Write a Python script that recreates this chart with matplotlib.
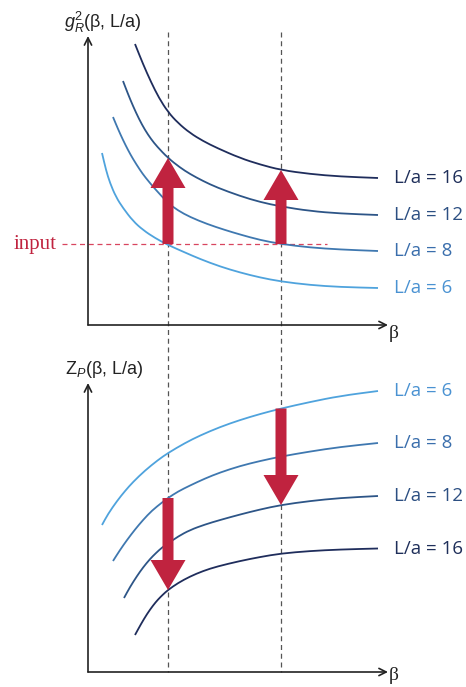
import numpy as np
import matplotlib.pyplot as plt
from matplotlib.path import Path
from matplotlib.patches import PathPatch

plt.rcParams['mathtext.fontset'] = 'custom'
plt.rcParams['mathtext.rm'] = 'Liberation Sans'
plt.rcParams['mathtext.it'] = 'Liberation Sans:italic'

# curve data (arbitrary units, axis origin = 0)
labels = ['L/a = 6', 'L/a = 8', 'L/a = 12', 'L/a = 16']
line_colors = ['#4fa3dd', '#3f78b0', '#2d5587', '#1f2d5c']
text_colors = ['#4a92d2', '#3a6eac', '#2c4f82', '#1f2f5a']

# top panel: g_R^2(beta, L/a)
g_beta_6 = [14, 18, 22, 28, 35, 45, 55, 67, 80, 97, 112, 132, 152, 172, 193, 222, 252, 290]
g_val_6 = [172, 155, 142, 128, 117, 104, 95, 87, 80, 72.5, 66, 58.5, 52.5, 47.5, 43.5, 40, 38, 37]
g_beta_8 = [25, 30, 35, 40, 45, 52, 57, 67, 80, 90, 102, 119, 137, 152, 172, 193, 222, 252, 290]
g_val_8 = [208, 196, 185, 175, 166, 155, 148, 136, 122, 114.5, 108, 101, 95, 90.5, 85, 81, 77.5, 75.5, 74]
g_beta_12 = [35, 40, 45, 51, 57, 63, 69, 80, 92, 102, 115, 129, 152, 172, 193, 222, 252, 290]
g_val_12 = [244, 231, 219, 206, 195, 186, 178.5, 167, 157.5, 151, 144, 137.5, 129, 123, 118.5, 114, 111.5, 110]
g_beta_16 = [47, 55, 63, 71, 80, 90, 102, 115, 129, 152, 172, 193, 222, 252, 290]
g_val_16 = [281, 261, 243, 227, 213, 202, 192, 184, 177, 167, 160.5, 155, 151, 148.5, 147]

# bottom panel: Z_P(beta, L/a)
z_beta_6 = [14, 20, 29, 37, 45, 57, 70, 80, 97, 112, 132, 152, 172, 193, 222, 252, 290]
z_val_6 = [147, 158, 171, 181, 190, 201.5, 212, 219, 229, 236.5, 245, 252, 258, 263.5, 270, 276, 281]
z_beta_8 = [25, 32, 39, 47, 55, 64, 74, 80, 90, 102, 117, 132, 152, 172, 193, 222, 252, 290]
z_val_8 = [111, 122, 132, 142.5, 152, 161.5, 169.5, 174, 180.5, 186.5, 193.5, 199.5, 206, 211, 215.5, 220.5, 225, 229]
z_beta_12 = [36, 42, 49, 55, 62, 68, 74, 80, 90, 102, 117, 132, 152, 172, 193, 222, 252, 290]
z_val_12 = [74, 85, 96, 104.5, 113, 119, 124.5, 128.5, 135.5, 142, 147.5, 152, 157.5, 162.5, 167, 171, 174, 176]
z_beta_16 = [47, 53, 59, 65, 70, 75, 80, 90, 102, 115, 129, 152, 172, 193, 222, 252, 290]
z_val_16 = [37, 48, 58, 66.5, 72.5, 77.5, 82, 89, 95.5, 101, 105.5, 111, 115, 118.5, 121, 122.5, 123.5]

g_curves = [(g_beta_6, g_val_6), (g_beta_8, g_val_8), (g_beta_12, g_val_12), (g_beta_16, g_val_16)]
z_curves = [(z_beta_6, z_val_6), (z_beta_8, z_val_8), (z_beta_12, z_val_12), (z_beta_16, z_val_16)]

beta_ops = [80, 193]      # the two dashed beta values
g_input = 81              # input level of g_R^2

red = '#c0233f'


def smooth_line(ax, xs, ys, color):
    # quadratic bezier through the midpoints, so the read points give a smooth stroke
    pts = np.column_stack([xs, ys]).astype(float)
    mids = (pts[:-1] + pts[1:]) / 2
    verts = [pts[0], mids[0]]
    codes = [Path.MOVETO, Path.LINETO]
    for i in range(1, len(pts) - 1):
        verts += [pts[i], mids[i]]
        codes += [Path.CURVE3, Path.CURVE3]
    verts.append(pts[-1])
    codes.append(Path.LINETO)
    ax.add_patch(PathPatch(Path(verts, codes), fill=False, edgecolor=color, lw=1.3,
                           capstyle='butt', zorder=2))


fig = plt.figure(figsize=(4.66, 6.87), dpi=100)
ax1 = fig.add_axes([88 / 466, 1 - 325 / 687, 300 / 466, 300 / 687])
ax2 = fig.add_axes([88 / 466, 15 / 687, 300 / 466, 300 / 687])

for ax, by in ((ax1, -8), (ax2, -4)):
    ax.set_xlim(0, 300)
    ax.set_ylim(0, 300)
    ax.axis('off')
    ax.annotate('', xy=(0, 289), xytext=(0, 0),
                arrowprops=dict(arrowstyle='->', lw=1.2, color='#222222', mutation_scale=13,
                                shrinkA=0, shrinkB=0))
    ax.annotate('', xy=(300, 0), xytext=(0, 0),
                arrowprops=dict(arrowstyle='->', lw=1.2, color='#222222', mutation_scale=13,
                                shrinkA=0, shrinkB=0))
    ax.text(301, by, 'β', fontsize=14, family='Liberation Serif', color='#222222',
            ha='left', va='center')

# dashed verticals running through both panels
for b in beta_ops:
    ax1.plot([b, b], [293, -347], color='#555555', lw=0.9, dashes=(4, 3), clip_on=False, zorder=1)

# curves + labels
for (bx, vy), c, tc, lab in zip(g_curves, line_colors, text_colors, labels):
    smooth_line(ax1, bx, vy, c)
    ax1.text(306, vy[-1], lab, color=tc, fontsize=13.5, family='Open Sans', va='center')
for (bx, vy), c, tc, lab in zip(z_curves, line_colors, text_colors, labels):
    smooth_line(ax2, bx, vy, c)
    ax2.text(306, vy[-1], lab, color=tc, fontsize=13.5, family='Open Sans', va='center')

# input line
ax1.plot([-26, 239], [g_input, g_input], color='#d8455f', lw=0.9, dashes=(4, 3), clip_on=False, zorder=1)
ax1.text(-31, g_input, 'input', color=red, fontsize=15, family='Liberation Serif',
         ha='right', va='center')

# axis titles
ax1.text(15, 303, r'$g_R^2$(β, L/a)', fontsize=13, family='Liberation Sans', color='#222222',
         ha='center', va='center')
ax2.text(16, 303, r'Z$_P$(β, L/a)', fontsize=13, family='Liberation Sans', color='#222222',
         ha='center', va='center')


def fat_arrow(ax, x, y0, y1):
    ax.arrow(x, y0, 0, y1 - y0, width=11, head_width=35, head_length=30,
             length_includes_head=True, color=red, lw=0, zorder=3)


# top: from the input level up to the larger L/a curve
fat_arrow(ax1, beta_ops[0], g_input, np.interp(beta_ops[0], g_beta_12, g_val_12))
fat_arrow(ax1, beta_ops[1], g_input, np.interp(beta_ops[1], g_beta_16, g_val_16))
# bottom: down to the matching Z_P curve
fat_arrow(ax2, beta_ops[0], np.interp(beta_ops[0], z_beta_8, z_val_8),
          np.interp(beta_ops[0], z_beta_16, z_val_16))
fat_arrow(ax2, beta_ops[1], np.interp(beta_ops[1], z_beta_6, z_val_6),
          np.interp(beta_ops[1], z_beta_12, z_val_12))

fig.savefig('out.png', dpi=100)
